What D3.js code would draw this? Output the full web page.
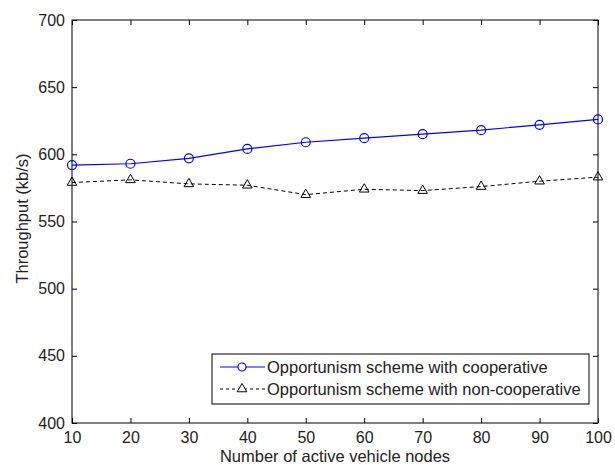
<!DOCTYPE html>
<html>
<head>
<meta charset="utf-8">
<script src="https://cdn.jsdelivr.net/npm/d3@7"></script>
<style>
  body { margin: 0; background: #fff; }
  text { font-family: "Liberation Sans", Arial, sans-serif; fill: #222; }
</style>
</head>
<body>
<div id="chart"></div>
<script>
const nodes = [10, 20, 30, 40, 50, 60, 70, 80, 90, 100];
const cooperative = [592, 593, 597, 604, 609, 612, 615, 618, 622, 626];
const nonCooperative = [579, 581, 578, 577, 570, 574, 573, 576, 580, 583];
const yTicks = [400, 450, 500, 550, 600, 650, 700];
const seriesNames = ["Opportunism scheme with cooperative", "Opportunism scheme with non-cooperative"];

const width = 615, height = 465;
const margin = {top: 20, right: 17, bottom: 42, left: 72};
const innerW = width - margin.left - margin.right;
const innerH = height - margin.top - margin.bottom;

const svg = d3.select("#chart").append("svg")
  .attr("width", width)
  .attr("height", height);

const g = svg.append("g")
  .attr("transform", `translate(${margin.left},${margin.top})`);

const x = d3.scaleLinear().domain([10, 100]).range([0, innerW]);
const y = d3.scaleLinear().domain([400, 700]).range([innerH, 0]);

// box
g.append("rect")
  .attr("width", innerW)
  .attr("height", innerH)
  .attr("fill", "none")
  .attr("stroke", "#000")
  .attr("stroke-width", 1);

// axes, ticks pointing inward
const xAxis = g.append("g")
  .attr("transform", `translate(0,${innerH})`)
  .call(d3.axisBottom(x).tickValues(nodes).tickSize(-5).tickPadding(9));
const xTop = g.append("g")
  .call(d3.axisTop(x).tickValues(nodes).tickSize(-5).tickFormat(""));
const yAxis = g.append("g")
  .call(d3.axisLeft(y).tickValues(yTicks).tickSize(-5).tickPadding(7));
const yRight = g.append("g")
  .attr("transform", `translate(${innerW},0)`)
  .call(d3.axisRight(y).tickValues(yTicks).tickSize(-5).tickFormat(""));

[xAxis, xTop, yAxis, yRight].forEach(a => {
  a.select(".domain").remove();
  a.selectAll("line").attr("stroke", "#000");
});
xAxis.selectAll("text").attr("font-size", 16);
yAxis.selectAll("text").attr("font-size", 16);

// axis titles
svg.append("text")
  .attr("x", margin.left + innerW / 2)
  .attr("y", 462)
  .attr("text-anchor", "middle")
  .attr("font-size", 16.5)
  .text("Number of active vehicle nodes");

svg.append("text")
  .attr("transform", `translate(28,${margin.top + innerH / 2 - 3}) rotate(-90)`)
  .attr("text-anchor", "middle")
  .attr("font-size", 16.5)
  .text("Throughput (kb/s)");

const line = d3.line().x(d => x(d[0])).y(d => y(d[1]));
const coopData = nodes.map((n, i) => [n, cooperative[i]]);
const nonData = nodes.map((n, i) => [n, nonCooperative[i]]);

const triangle = d3.symbol().type(d3.symbolTriangle).size(40);

g.append("path")
  .datum(nonData)
  .attr("d", line)
  .attr("fill", "none")
  .attr("stroke", "#000")
  .attr("stroke-width", 1)
  .attr("stroke-dasharray", "4,3");

g.selectAll(".tri")
  .data(nonData)
  .join("path")
  .attr("class", "tri")
  .attr("transform", d => `translate(${x(d[0])},${y(d[1])})`)
  .attr("d", triangle)
  .attr("fill", "none")
  .attr("stroke", "#000")
  .attr("stroke-width", 1);

g.append("path")
  .datum(coopData)
  .attr("d", line)
  .attr("fill", "none")
  .attr("stroke", "#0000ff")
  .attr("stroke-width", 1.2);

g.selectAll(".circ")
  .data(coopData)
  .join("circle")
  .attr("class", "circ")
  .attr("cx", d => x(d[0]))
  .attr("cy", d => y(d[1]))
  .attr("r", 4.5)
  .attr("fill", "none")
  .attr("stroke", "#0000ff")
  .attr("stroke-width", 1.2);

// legend
const legend = svg.append("g").attr("transform", "translate(212,354)");
legend.append("rect")
  .attr("width", 377)
  .attr("height", 50)
  .attr("fill", "#fff")
  .attr("stroke", "#000")
  .attr("stroke-width", 1);

const rows = [
  {name: seriesNames[0], color: "#0000ff", dash: null, marker: "circle"},
  {name: seriesNames[1], color: "#000", dash: "3,3", marker: "tri"}
];
rows.forEach((r, i) => {
  const ry = 13 + i * 22;
  legend.append("line")
    .attr("x1", 8).attr("x2", 53)
    .attr("y1", ry).attr("y2", ry)
    .attr("stroke", r.color)
    .attr("stroke-width", 1.2)
    .attr("stroke-dasharray", r.dash);
  if (r.marker === "circle") {
    legend.append("circle")
      .attr("cx", 30).attr("cy", ry).attr("r", 4)
      .attr("fill", "#fff").attr("stroke", r.color).attr("stroke-width", 1.2);
  } else {
    legend.append("path")
      .attr("transform", `translate(30,${ry})`)
      .attr("d", triangle)
      .attr("fill", "#fff").attr("stroke", r.color);
  }
  legend.append("text")
    .attr("x", 55)
    .attr("y", ry)
    .attr("dy", "0.35em")
    .attr("font-size", 16.5)
    .text(r.name);
});
</script>
</body>
</html>
